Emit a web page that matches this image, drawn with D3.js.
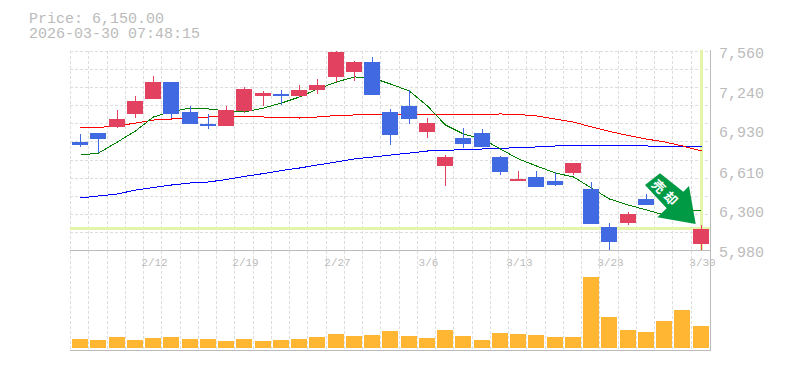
<!DOCTYPE html>
<html>
<head>
<meta charset="utf-8">
<script src="https://d3js.org/d3.v7.min.js"></script>
<style>
  html, body { margin: 0; padding: 0; background: #fff; }
  svg { display: block; }
  text { font-family: "Liberation Mono", monospace; fill: #bbb; }
</style>
</head>
<body>
<div id="chart"></div>
<script>
// candle values, one entry per trading day
var opens = [6838, 6909, 6957, 7060, 7179, 7314, 7076, 6980, 6965, 7084, 7203, 7219, 7203, 7250, 7354, 7393, 7473, 7076, 7123, 6917, 6647, 6869, 6909, 6718, 6528, 6560, 6528, 6592, 6464, 6162, 6194, 6385, 6417, 6417, 6028];
var highs = [6901, 6909, 7092, 7203, 7362, 7314, 7123, 7060, 7123, 7274, 7242, 7250, 7290, 7338, 7560, 7481, 7512, 7100, 7250, 7028, 6734, 6949, 6941, 6726, 6608, 6608, 6600, 6671, 6520, 6194, 6282, 6425, 6520, 6417, 6178];
var lows = [6798, 6750, 6949, 7028, 7179, 7028, 6980, 6941, 6965, 7068, 7123, 7131, 7195, 7219, 7314, 7322, 7211, 6814, 6980, 6869, 6488, 6790, 6798, 6575, 6528, 6480, 6488, 6575, 6186, 5980, 6178, 6337, 6401, 6258, 5980];
var closes = [6814, 6861, 7020, 7163, 7314, 7060, 6980, 6965, 7092, 7258, 7227, 7203, 7250, 7290, 7552, 7473, 7211, 6893, 7020, 6988, 6718, 6822, 6798, 6599, 6544, 6480, 6496, 6671, 6186, 6044, 6266, 6337, 6496, 6258, 6150];
var volumes = [9, 8, 11, 8, 10, 11, 9, 9, 7, 9, 7, 8, 9, 11, 14, 12, 13, 17, 12, 10, 18, 12, 8, 15, 14, 13, 11, 11, 71, 31, 18, 16, 27, 38, 22];

// moving averages
var maShort = [6734, 6750, 6838, 6925, 7036, 7080, 7107, 7100, 7084, 7076, 7107, 7147, 7195, 7258, 7314, 7354, 7346, 7298, 7242, 7123, 6972, 6901, 6861, 6782, 6703, 6647, 6591, 6560, 6472, 6385, 6337, 6298, 6258, 6282, 6298];
var maMid = [6949, 6953, 6965, 6988, 7012, 7020, 7028, 7036, 7036, 7036, 7036, 7032, 7028, 7036, 7048, 7052, 7052, 7052, 7052, 7056, 7056, 7056, 7056, 7060, 7056, 7044, 7020, 6996, 6957, 6921, 6889, 6861, 6838, 6806, 6766];
var maLong = [6393, 6409, 6425, 6456, 6476, 6496, 6512, 6520, 6540, 6564, 6587, 6611, 6631, 6655, 6679, 6703, 6718, 6734, 6750, 6766, 6770, 6778, 6782, 6786, 6794, 6798, 6806, 6806, 6806, 6806, 6806, 6806, 6802, 6798, 6798];

// axis labels
var priceTicks = [7560, 7240, 6930, 6610, 6300, 5980];
var dateLabels = ["2/12", "2/19", "2/27", "3/6", "3/13", "3/23", "3/30"];
var dateIndexes = [4, 9, 14, 19, 24, 29, 34];

var currentPrice = 6150;
var headerLines = ["Price: 6,150.00", "2026-03-30 07:48:15"];

var width = 785, height = 370;
var left = 70, right = 710, priceTop = 51, priceBottom = 250, volTop = 277, volBottom = 348, axisBottom = 350;
var gridColor = "#ddd", axisColor = "#bbb";
var days = d3.range(opens.length);

var svg = d3.select("#chart").append("svg")
    .attr("width", width)
    .attr("height", height);

var x = d3.scaleBand().domain(days).range([left, right - 1]);
var y = d3.scaleLinear().domain([5980, 7560]).range([priceBottom, priceTop]);
var yVol = d3.scaleLinear().domain([0, d3.max(volumes)]).range([volBottom, volTop]);

// left edge of a day's slot, snapped to whole pixels
function slot(i) { return Math.round(x(i)); }
function mid(i) { return slot(i) + 10.5; }

// dashed grid
var gridRows = d3.range(12).map(function (i) { return Math.round(priceTop + i * (priceBottom - priceTop) / 11) + 0.5; });
svg.append("g").selectAll("line")
    .data(gridRows.slice(0, 11))
    .join("line")
    .attr("x1", left).attr("x2", right)
    .attr("y1", function (d) { return d; })
    .attr("y2", function (d) { return d; })
    .attr("stroke", gridColor)
    .attr("stroke-dasharray", "3,2")
    .attr("shape-rendering", "crispEdges");

svg.append("g").selectAll("line")
    .data(days)
    .join("line")
    .attr("x1", function (d) { return slot(d) + 0.5; })
    .attr("x2", function (d) { return slot(d) + 0.5; })
    .attr("y1", priceTop).attr("y2", axisBottom)
    .attr("stroke", gridColor)
    .attr("stroke-dasharray", "3,2")
    .attr("shape-rendering", "crispEdges");

// axis lines
var frame = [
    [left, priceBottom + 0.5, right, priceBottom + 0.5],
    [left, axisBottom + 0.5, right + 1, axisBottom + 0.5],
    [right + 0.5, priceTop - 1, right + 0.5, axisBottom]
];
svg.append("g").selectAll("line")
    .data(frame)
    .join("line")
    .attr("x1", function (d) { return d[0]; })
    .attr("y1", function (d) { return d[1]; })
    .attr("x2", function (d) { return d[2]; })
    .attr("y2", function (d) { return d[3]; })
    .attr("stroke", axisColor)
    .attr("shape-rendering", "crispEdges");

// current price cross hair
svg.append("line")
    .attr("x1", left).attr("x2", right)
    .attr("y1", y(currentPrice)).attr("y2", y(currentPrice))
    .attr("stroke", "#e4f4a8").attr("stroke-width", 3)
    .attr("shape-rendering", "crispEdges");
svg.append("line")
    .attr("x1", mid(34)).attr("x2", mid(34))
    .attr("y1", priceTop - 1).attr("y2", priceBottom)
    .attr("stroke", "#e4f4a8").attr("stroke-width", 3)
    .attr("shape-rendering", "crispEdges");

// moving averages
var maLine = d3.line()
    .x(function (d, i) { return mid(i); })
    .y(function (d) { return y(d); });
[[maLong, "#0000ff"], [maMid, "#ff0000"], [maShort, "#008000"]].forEach(function (s) {
    svg.append("path")
        .attr("d", maLine(s[0]))
        .attr("fill", "none")
        .attr("stroke", s[1])
        .attr("stroke-width", 1)
        .attr("shape-rendering", "crispEdges");
});

// candles
function candleColor(i) { return closes[i] >= opens[i] ? "#e2425f" : "#4169e1"; }

svg.append("g").selectAll("line")
    .data(days)
    .join("line")
    .attr("x1", mid).attr("x2", mid)
    .attr("y1", function (d) { return y(highs[d]); })
    .attr("y2", function (d) { return y(lows[d]); })
    .attr("stroke", candleColor)
    .attr("shape-rendering", "crispEdges");

svg.append("g").selectAll("rect")
    .data(days)
    .join("rect")
    .attr("x", function (d) { return slot(d) + 2; })
    .attr("width", 16)
    .attr("y", function (d) { return y(Math.max(opens[d], closes[d])); })
    .attr("height", function (d) { return Math.abs(y(opens[d]) - y(closes[d])); })
    .attr("fill", candleColor)
    .attr("shape-rendering", "crispEdges");

// volume bars
svg.append("g").selectAll("rect")
    .data(days)
    .join("rect")
    .attr("x", function (d) { return slot(d) + 2; })
    .attr("width", 16)
    .attr("y", function (d) { return yVol(volumes[d]); })
    .attr("height", function (d) { return volBottom - yVol(volumes[d]); })
    .attr("fill", "#ffb733")
    .attr("shape-rendering", "crispEdges");

// signal arrow
svg.append("polygon")
    .attr("points", "645,185 660,173.3 683.3,191.7 689,186 695.7,224 657.3,217.3 666.7,208.3")
    .attr("fill", "#009944");
svg.append("text")
    .attr("transform", "translate(666,194) rotate(45)")
    .attr("text-anchor", "middle")
    .attr("dy", "0.36em")
    .style("font-family", "'Noto Sans CJK JP'")
    .style("font-size", "13px")
    .style("font-weight", "bold")
    .style("letter-spacing", "4px")
    .style("fill", "#fff")
    .text("売却");

// labels
svg.append("g").selectAll("text")
    .data(priceTicks)
    .join("text")
    .attr("x", 719)
    .attr("y", function (d) { return y(d) + 7; })
    .style("font-size", "15px")
    .text(function (d) { return d3.format(",")(d); });

svg.append("g").selectAll("text")
    .data(dateLabels)
    .join("text")
    .attr("x", function (d, i) { return mid(dateIndexes[i]) + 1; })
    .attr("y", 266)
    .attr("text-anchor", "middle")
    .style("font-size", "11px")
    .text(function (d) { return d; });

svg.append("g").selectAll("text")
    .data(headerLines)
    .join("text")
    .attr("x", 29)
    .attr("y", function (d, i) { return 23 + i * 15; })
    .style("font-size", "15px")
    .text(function (d) { return d; });
</script>
</body>
</html>
